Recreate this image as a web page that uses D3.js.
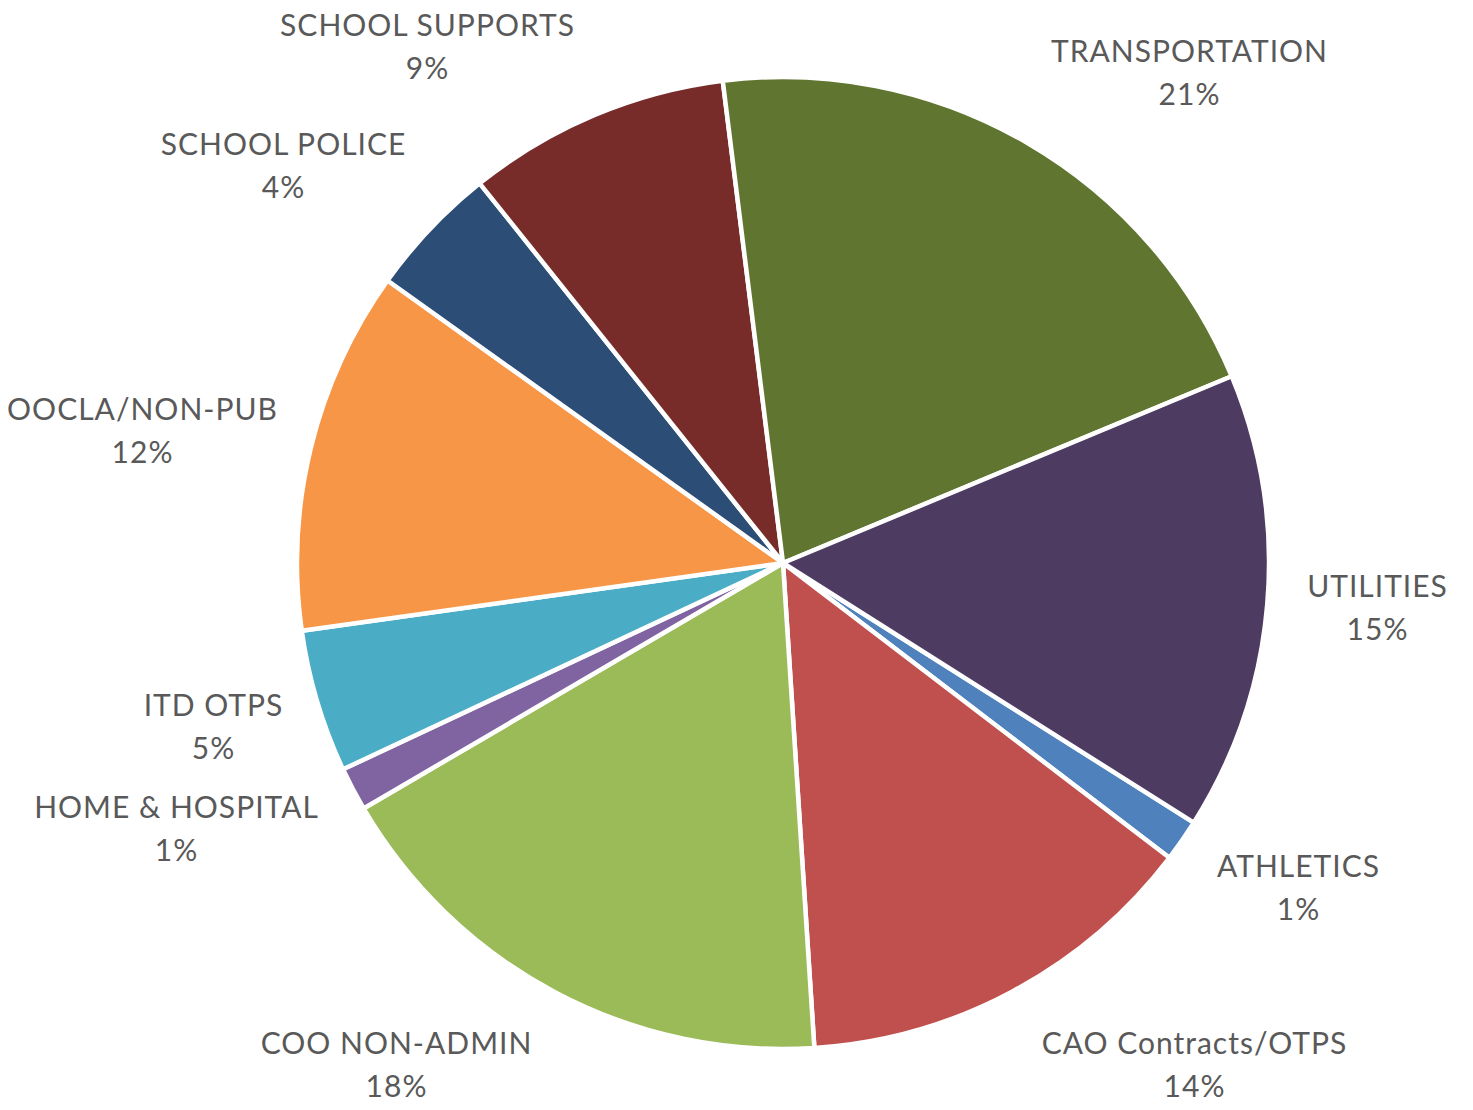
<!DOCTYPE html>
<html>
<head>
<meta charset="utf-8">
<script src="https://cdn.jsdelivr.net/npm/d3@7"></script>
<style>
  html, body { margin: 0; padding: 0; background: #ffffff; }
  svg { display: block; }
  .slice-label { font-family: Lato, "Open Sans", sans-serif; fill: #595959; letter-spacing: 1px; }
</style>
</head>
<body>
<svg id="chart" width="1473" height="1110"></svg>
<script>
// Budget share by category (percent of total), in series order
const categories = [
  "ATHLETICS", "CAO Contracts/OTPS", "COO NON-ADMIN", "HOME & HOSPITAL",
  "ITD OTPS", "OOCLA/NON-PUB", "SCHOOL POLICE", "SCHOOL SUPPORTS",
  "TRANSPORTATION", "UTILITIES"
];
const values = [1.4, 13.6, 17.6, 1.45, 4.75, 12.1, 4.4, 8.75, 20.7, 15.25];
const colors = [
  "#4F81BD", "#C0504D", "#9BBB59", "#8064A2", "#4BACC6",
  "#F79646", "#2C4D75", "#772C2A", "#5F7530", "#4D3B62"
];

// Layout
const width = 1473, height = 1110;
const cx = 783, cy = 563, radius = 486;
const firstSliceAngle = 122.3; // degrees clockwise from 12 o'clock
const fontSize = 30, lineGap = 43.5;
// Label block centres, as offsets from the pie centre
const labelOffsets = [
  [515, 325],   // ATHLETICS
  [411, 502],   // CAO Contracts/OTPS
  [-387, 502],  // COO NON-ADMIN
  [-607, 266],  // HOME & HOSPITAL
  [-570, 164],  // ITD OTPS
  [-641, -132], // OOCLA/NON-PUB
  [-500, -397], // SCHOOL POLICE
  [-356, -516], // SCHOOL SUPPORTS
  [406, -490],  // TRANSPORTATION
  [594, 45]     // UTILITIES
];

const data = categories.map((c, i) => ({ name: c, value: values[i], color: colors[i], offset: labelOffsets[i] }));
const total = d3.sum(values);
const pct = d3.format(".0%");

const svg = d3.select("#chart");
const g = svg.append("g").attr("transform", `translate(${cx},${cy})`);

const start = firstSliceAngle * Math.PI / 180;
const pie = d3.pie()
  .sort(null)
  .value(d => d.value)
  .startAngle(start)
  .endAngle(start + 2 * Math.PI);

const arc = d3.arc().innerRadius(0).outerRadius(radius);

g.selectAll("path.slice")
  .data(pie(data))
  .join("path")
  .attr("class", "slice")
  .attr("d", arc)
  .attr("fill", d => d.data.color)
  .attr("stroke", "#ffffff")
  .attr("stroke-width", 4.5)
  .attr("stroke-linejoin", "round");

const labels = g.selectAll("text.slice-label")
  .data(pie(data))
  .join("text")
  .attr("class", "slice-label")
  .attr("text-anchor", "middle")
  .attr("font-size", fontSize)
  .attr("transform", d => `translate(${d.data.offset[0] + 0.5},${d.data.offset[1]})`);

labels.append("tspan")
  .attr("x", 0)
  .attr("y", -lineGap / 2 + fontSize * 0.35)
  .text(d => d.data.name);

labels.append("tspan")
  .attr("x", 0)
  .attr("y", lineGap / 2 + fontSize * 0.35)
  .text(d => pct(d.data.value / total));
</script>
</body>
</html>
